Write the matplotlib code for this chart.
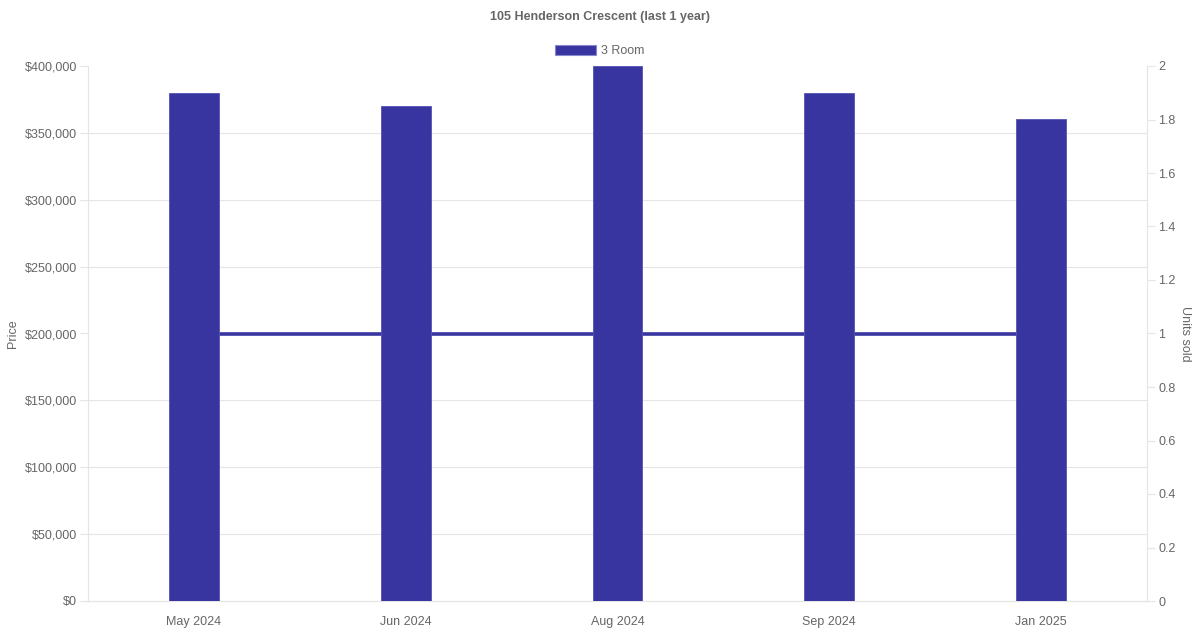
import matplotlib.pyplot as plt
from matplotlib.ticker import FuncFormatter, MultipleLocator
from matplotlib.patches import Patch

plt.rcParams['font.family'] = ['Liberation Sans', 'DejaVu Sans']

# data
months = ["May 2024", "Jun 2024", "Aug 2024", "Sep 2024", "Jan 2025"]
prices = [380000, 370000, 400000, 380000, 360000]
units_sold = [1, 1, 1, 1, 1]

bar_color = "#3834a0"
text_color = "#666666"
grid_color = "#e5e5e5"

fig = plt.figure(figsize=(12, 6.3), dpi=100)
ax = fig.add_axes([88 / 1200, 1 - 601 / 630, (1147 - 88) / 1200, (601 - 66) / 630])
ax2 = ax.twinx()

x = list(range(len(months)))

# units sold line sits behind the bars
ax2.plot(x, units_sold, color=bar_color, linewidth=2.6, solid_capstyle='butt', zorder=3)
ax2.set_ylim(0, 2)
ax2.yaxis.set_major_locator(MultipleLocator(0.2))
ax2.yaxis.set_major_formatter(FuncFormatter(lambda v, p: f"{v:g}"))
ax2.set_ylabel("Units sold", color=text_color, fontsize=9, rotation=270, labelpad=11)
# price grid lines (every $50,000) drawn on the back axis so the line covers them
ax2.yaxis.set_minor_locator(MultipleLocator(0.25))
ax2.grid(which='minor', axis='y', color=grid_color, linewidth=0.8, zorder=0)
ax2.tick_params(which='minor', length=0)

ax.set_zorder(ax2.get_zorder() + 1)
ax.patch.set_visible(False)
ax.bar(x, prices, width=0.236, color=bar_color, edgecolor='#5552b3', linewidth=0.6, zorder=3)
ax.set_xlim(-0.5, len(months) - 0.5)
ax.set_ylim(0, 400000)
ax.yaxis.set_major_locator(MultipleLocator(50000))
ax.yaxis.set_major_formatter(FuncFormatter(lambda v, p: f"${v:,.0f}"))
ax.set_xticks(x)
ax.set_xticklabels(months)
ax.set_ylabel("Price", color=text_color, fontsize=9, labelpad=4)

for a in (ax, ax2):
    a.spines['top'].set_visible(False)
    for side in ('left', 'right', 'bottom'):
        a.spines[side].set_color(grid_color)
    a.tick_params(colors=text_color, labelsize=9, length=6, width=0.8, pad=2)
    a.tick_params(axis='both', color=grid_color)
ax.tick_params(axis='x', length=0, pad=11)
ax2.spines['left'].set_visible(False)
ax.spines['right'].set_visible(False)

fig.text(0.5, 1 - 17 / 630, "105 Henderson Crescent (last 1 year)", ha='center', va='center',
         fontsize=9, fontweight='bold', color=text_color)
fig.legend(handles=[Patch(facecolor=bar_color, edgecolor='#8a87cc', linewidth=0.8)],
           labels=["3 Room"], loc='center', bbox_to_anchor=(0.5, 1 - 51 / 630),
           frameon=False, fontsize=9, labelcolor=text_color,
           handlelength=3.3, handleheight=0.9, handletextpad=0.4)

fig.savefig("out.png", dpi=100)
